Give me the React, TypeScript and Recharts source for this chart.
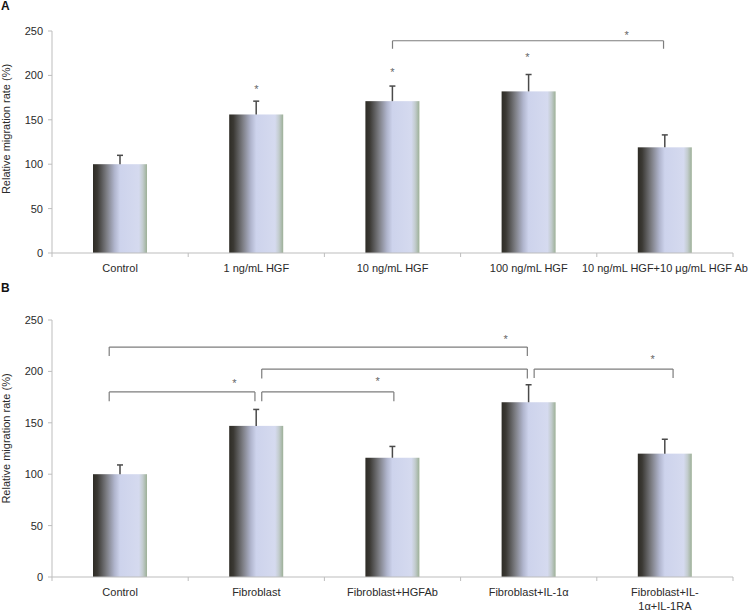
import React from 'react';
import { BarChart, Bar, XAxis, YAxis, ReferenceLine, ReferenceDot } from 'recharts';

const FONT = '"Liberation Sans", Arial, Helvetica, sans-serif';

// ---------- Panel A data ----------
const categoriesA: string[][] = [
  ['Control'],
  ['1 ng/mL HGF'],
  ['10 ng/mL HGF'],
  ['100 ng/mL HGF'],
  ['10 ng/mL HGF+10 μg/mL HGF Ab'],
];
const valuesA = [100, 156, 171, 182, 119];
const errorsA = [10, 15, 17, 19, 14];
// brackets: from/to in category index units, y = bar level, end = tip level
const bracketsA = [{ from: 2.0, to: 3.99, y: 239, end: 230 }];
const starsA = [
  { x: 1.0, y: 187 },
  { x: 2.0, y: 206 },
  { x: 2.99, y: 223 },
  { x: 3.72, y: 248 },
];

// ---------- Panel B data ----------
const categoriesB: string[][] = [
  ['Control'],
  ['Fibroblast'],
  ['Fibroblast+HGFAb'],
  ['Fibroblast+IL-1α'],
  ['Fibroblast+IL-', '1α+IL-1RA'],
];
const valuesB = [100, 147, 116, 170, 120];
const errorsB = [9, 16, 11, 17, 14];
const bracketsB = [
  { from: -0.08, to: 2.99, y: 223.7, end: 215 },
  { from: 1.04, to: 2.99, y: 202.3, end: 193 },
  { from: -0.08, to: 0.99, y: 180, end: 171 },
  { from: 1.04, to: 2.01, y: 180, end: 171 },
  { from: 3.04, to: 4.06, y: 202.3, end: 193.6 },
];
const starsB = [
  { x: 2.83, y: 233.5 },
  { x: 0.84, y: 190.7 },
  { x: 1.89, y: 192.6 },
  { x: 3.91, y: 214 },
];

const yTicks = [0, 50, 100, 150, 200, 250];
const xTicks = [-0.5, 0, 0.5, 1, 1.5, 2, 2.5, 3, 3.5, 4, 4.5];

const AXIS_COLOR = '#bdbdbd';
const TEXT_COLOR = '#2a2a2a';
const BRACKET_COLOR = '#7d7d7d';

const buildRows = (vals: number[], errs: number[]) =>
  vals.map((v, i) => ({ idx: i, value: v, err: errs[i] }));

const Gradient = ({ id }: { id: string }) => (
  <defs>
    <linearGradient id={id} x1="0" y1="0" x2="1" y2="0">
      <stop offset="0" stopColor="#2e2c26" />
      <stop offset="0.08" stopColor="#3b3934" />
      <stop offset="0.25" stopColor="#7c7d83" />
      <stop offset="0.4" stopColor="#b0b5cd" />
      <stop offset="0.5" stopColor="#cdd3ec" />
      <stop offset="0.85" stopColor="#d5daef" />
      <stop offset="0.92" stopColor="#c3cccf" />
      <stop offset="1" stopColor="#9db097" />
    </linearGradient>
  </defs>
);

const makeBarShape = (gradId: string) => (props: any) => {
  const { x, y, width, height, payload } = props;
  const v = payload.value;
  const e = payload.err;
  const pxPerUnit = v ? height / v : 0;
  const eh = e * pxPerUnit;
  const cx = x + width / 2;
  return (
    <g>
      <rect x={x} y={y} width={width} height={height} fill={`url(#${gradId})`} />
      <line x1={cx} x2={cx} y1={y} y2={y - eh} stroke="#4a4a4a" strokeWidth={1.5} />
      <line x1={cx - 3} x2={cx + 3} y1={y - eh} y2={y - eh} stroke="#4a4a4a" strokeWidth={1.5} />
    </g>
  );
};

const makeTick = (labels: string[][]) => (props: any) => {
  const { x, y, payload } = props;
  const v = payload.value;
  if (Number.isInteger(v)) {
    const lines = labels[v] || [];
    return (
      <text x={x} y={y + 19} textAnchor="middle" fontSize={11} fill={TEXT_COLOR} fontFamily={FONT}>
        {lines.map((l, i) => (
          <tspan key={i} x={x} dy={i === 0 ? 0 : 14}>
            {l}
          </tspan>
        ))}
      </text>
    );
  }
  return <line x1={x} x2={x} y1={y} y2={y + 4} stroke={AXIS_COLOR} strokeWidth={1} />;
};

const makeStar = (props: any) => {
  const { cx, cy } = props;
  return (
    <text x={cx} y={cy + 6} textAnchor="middle" fontSize={11} fill="#666" fontFamily={FONT}>
      *
    </text>
  );
};

const bracketLines = (brs: { from: number; to: number; y: number; end: number }[], prefix: string) =>
  brs.flatMap((b, i) => [
    <ReferenceLine
      key={`${prefix}-h-${i}`}
      segment={[{ x: b.from, y: b.y }, { x: b.to, y: b.y }]}
      stroke={BRACKET_COLOR}
      strokeWidth={1.2}
    />,
    <ReferenceLine
      key={`${prefix}-l-${i}`}
      segment={[{ x: b.from, y: b.y }, { x: b.from, y: b.end }]}
      stroke={BRACKET_COLOR}
      strokeWidth={1.2}
    />,
    <ReferenceLine
      key={`${prefix}-r-${i}`}
      segment={[{ x: b.to, y: b.y }, { x: b.to, y: b.end }]}
      stroke={BRACKET_COLOR}
      strokeWidth={1.2}
    />,
  ]);

const starDots = (stars: { x: number; y: number }[], prefix: string) =>
  stars.map((s, i) => (
    <ReferenceDot key={`${prefix}-s-${i}`} x={s.x} y={s.y} r={0} shape={makeStar} />
  ));

interface PanelProps {
  gradId: string;
  labels: string[][];
  values: number[];
  errors: number[];
  brackets: { from: number; to: number; y: number; end: number }[];
  stars: { x: number; y: number }[];
  height: number;
  marginTop: number;
  xAxisHeight: number;
  labelShift: number;
}

const Panel = ({ gradId, labels, values, errors, brackets, stars, height, marginTop, xAxisHeight, labelShift }: PanelProps) => {
  const data = buildRows(values, errors);
  const plotHeight = height - marginTop - xAxisHeight;
  const labelY = marginTop + plotHeight / 2 + labelShift;
  return (
    <BarChart
      width={754}
      height={height}
      data={data}
      margin={{ top: marginTop, right: 21, bottom: 0, left: 0 }}
    >
      <Gradient id={gradId} />
      <XAxis
        dataKey="idx"
        type="number"
        domain={[-0.5, 4.5]}
        ticks={xTicks}
        interval={0}
        height={xAxisHeight}
        tickSize={0}
        tickMargin={0}
        tickLine={false}
        axisLine={{ stroke: AXIS_COLOR, strokeWidth: 1 }}
        tick={makeTick(labels)}
        allowDecimals
      />
      <YAxis
        type="number"
        domain={[0, 250]}
        ticks={yTicks}
        interval={0}
        width={52}
        tickSize={4}
        tickMargin={5}
        tickLine={{ stroke: AXIS_COLOR }}
        axisLine={{ stroke: AXIS_COLOR, strokeWidth: 1 }}
        tick={{ fontSize: 11, fill: TEXT_COLOR, fontFamily: FONT }}
        label={(p: any) => (
          <text
            transform={`translate(10, ${labelY}) rotate(-90)`}
            textAnchor="middle"
            fontSize={11}
            fill={TEXT_COLOR}
            fontFamily={FONT}
          >
            Relative migration rate (%)
          </text>
        )}
      />
      <Bar dataKey="value" barSize={54} isAnimationActive={false} shape={makeBarShape(gradId)} />
      {bracketLines(brackets, gradId)}
      {starDots(stars, gradId)}
    </BarChart>
  );
};

export default function App() {
  return (
    <div style={{ position: 'absolute', left: 0, top: 0, width: 754, height: 612, background: '#fff', fontFamily: FONT }}>
      <div style={{ position: 'absolute', left: 0, top: 0 }}>
        <Panel
          gradId="gradA"
          labels={categoriesA}
          values={valuesA}
          errors={errorsA}
          brackets={bracketsA}
          stars={starsA}
          height={282}
          marginTop={31}
          xAxisHeight={29}
          labelShift={-13}
        />
      </div>
      <div style={{ position: 'absolute', left: 0, top: 290 }}>
        <Panel
          gradId="gradB"
          labels={categoriesB}
          values={valuesB}
          errors={errorsB}
          brackets={bracketsB}
          stars={starsB}
          height={322}
          marginTop={30}
          xAxisHeight={35}
          labelShift={-10}
        />
      </div>
      <div style={{ position: 'absolute', left: 1, top: 0, fontSize: 12, lineHeight: '12px', fontWeight: 'bold', color: '#111' }}>A</div>
      <div style={{ position: 'absolute', left: 1, top: 282, fontSize: 12, lineHeight: '12px', fontWeight: 'bold', color: '#111' }}>B</div>
    </div>
  );
}
